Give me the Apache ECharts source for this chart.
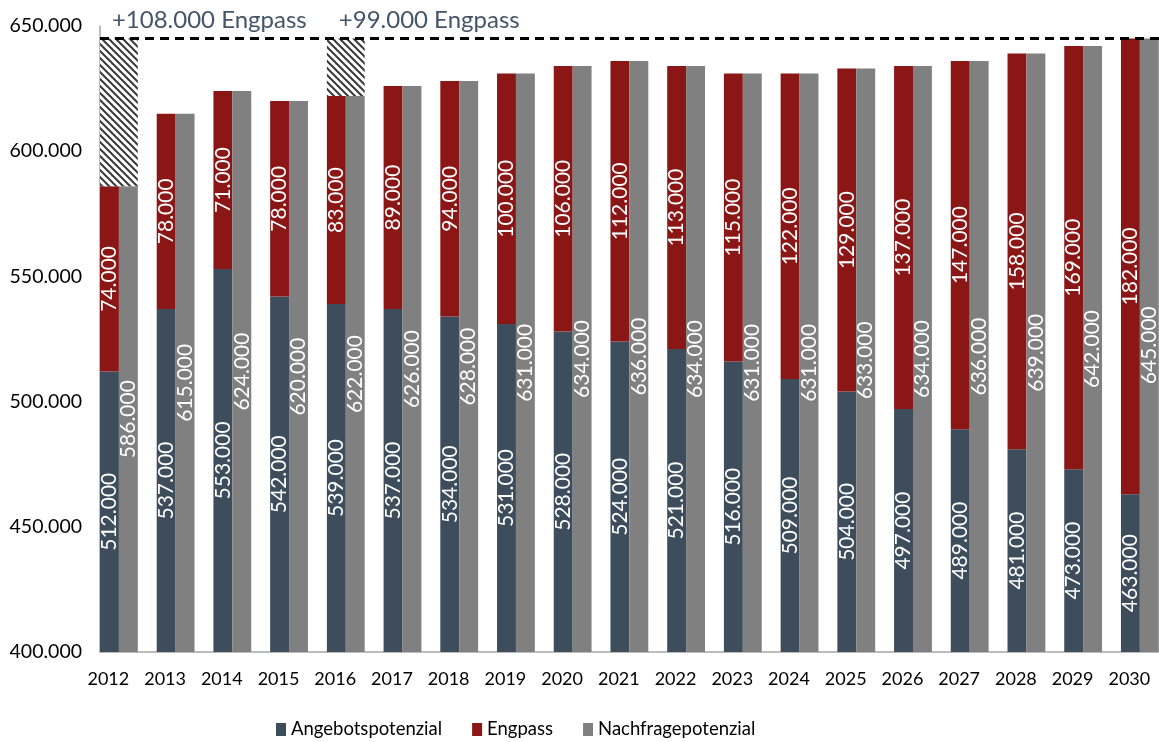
<!DOCTYPE html>
<html><head><meta charset="utf-8">
<script src="https://cdn.jsdelivr.net/npm/echarts@6/dist/echarts.min.js"></script>
<style>html,body{margin:0;padding:0;background:#fff}#c{width:1159px;height:742px}</style>
</head><body><div id="c"></div>
<script>
const years = ['2012','2013','2014','2015','2016','2017','2018','2019','2020','2021','2022','2023','2024','2025','2026','2027','2028','2029','2030'];
const angebot = [512,537,553,542,539,537,534,531,528,524,521,516,509,504,497,489,481,473,463];
const engpass = [74,78,71,78,83,89,94,100,106,112,113,115,122,129,137,147,158,169,182];
const nachfrage = [586,615,624,620,622,626,628,631,634,636,634,631,631,633,634,636,639,642,645];
const yMin = 400, yMax = 650, yStep = 50;
const engpassLine = 645;
const hatchYears = ['2012','2016'];
const hatchLabels = ['+108.000 Engpass','+99.000 Engpass'];

function fmt(v){ return v + '.000'; }

function hatchPattern(){
  const s = 7;
  const c = document.createElement('canvas'); c.width = s; c.height = s;
  const g = c.getContext('2d');
  g.fillStyle = '#fff'; g.fillRect(0,0,s,s);
  g.strokeStyle = '#3a3a3a'; g.lineWidth = 2;
  g.beginPath();
  g.moveTo(-1,-1); g.lineTo(s+1,s+1);
  g.moveTo(-1,s-1); g.lineTo(1,s+1);
  g.moveTo(s-1,-1); g.lineTo(s+1,1);
  g.stroke();
  return c;
}

const hatchBase = years.map((y,i)=> hatchYears.includes(y) ? nachfrage[i] : '-');
const hatchTop = years.map((y,i)=> hatchYears.includes(y) ? engpassLine - nachfrage[i] : '-');

const FONT = 'Lato';
const catW = 56.72;
const inLabel = {show:true, position:'inside', rotate:90, color:'#fff', fontSize:21, fontFamily:FONT, formatter:p=>fmt(p.value)};

const chart = echarts.init(document.getElementById('c'));
chart.setOption({
  animation:false,
  backgroundColor:'#fff',
  grid:{left:100, top:26, width:19*catW, height:626, outerBoundsMode:'none', containLabel:false},
  xAxis:[
    {type:'category', data:years,
     axisLine:{lineStyle:{color:'#a6a6a6', width:1.5}}, axisTick:{show:false},
     axisLabel:{interval:0, color:'#000', fontSize:18, fontFamily:FONT, margin:18, padding:[0,40,0,0]}},
    {type:'category', data:years, show:false}
  ],
  yAxis:{type:'value', min:yMin, max:yMax, interval:yStep,
    axisLine:{show:true, lineStyle:{color:'#a6a6a6', width:1.5}}, axisTick:{show:false}, splitLine:{show:false},
    axisLabel:{formatter:fmt, color:'#000', fontSize:19.5, fontFamily:FONT, margin:18}},
  legend:{left:276, top:720, padding:0, itemWidth:10, itemHeight:13, itemGap:30, icon:'rect',
    textStyle:{fontSize:18.5, fontFamily:FONT, color:'#000'},
    data:['Angebotspotenzial','Engpass','Nachfragepotenzial']},
  series:[
    {name:'Angebotspotenzial', type:'bar', stack:'a', data:angebot, barGap:0, barCategoryGap:0,
     itemStyle:{color:'#3d4d5b'}, label:inLabel},
    {name:'Engpass', type:'bar', stack:'a', data:engpass, barGap:0, barCategoryGap:0,
     itemStyle:{color:'#8b1616'}, label:inLabel},
    {name:'Nachfragepotenzial', type:'bar', data:nachfrage, barGap:0, barCategoryGap:0,
     itemStyle:{color:'#808080'}, label:inLabel,
     markLine:{silent:true, symbol:'none', label:{show:false}, z:10,
       lineStyle:{color:'#000', width:3, type:[9,6]}, data:[{yAxis:engpassLine}]}},
    {name:'gap', type:'bar', data:[], barGap:0, barCategoryGap:0},
    {name:'hbase', type:'bar', xAxisIndex:1, stack:'h', data:hatchBase, barWidth:'66.667%', barGap:0,
     itemStyle:{color:'rgba(0,0,0,0)'}},
    {name:'hatch', type:'bar', xAxisIndex:1, stack:'h', data:hatchTop, barWidth:'66.667%', barGap:0,
     itemStyle:{color:{image:hatchPattern(), repeat:'repeat'}},
     label:{show:true, position:'top', align:'left', offset:[-7,-2], distance:4, color:'#44546a', fontSize:24, fontFamily:FONT,
       formatter:p=> hatchLabels[hatchYears.indexOf(p.name)]}},
    {name:'gap2', type:'bar', xAxisIndex:1, data:[], barWidth:'33.333%', barGap:0}
  ]
});
</script></body></html>
